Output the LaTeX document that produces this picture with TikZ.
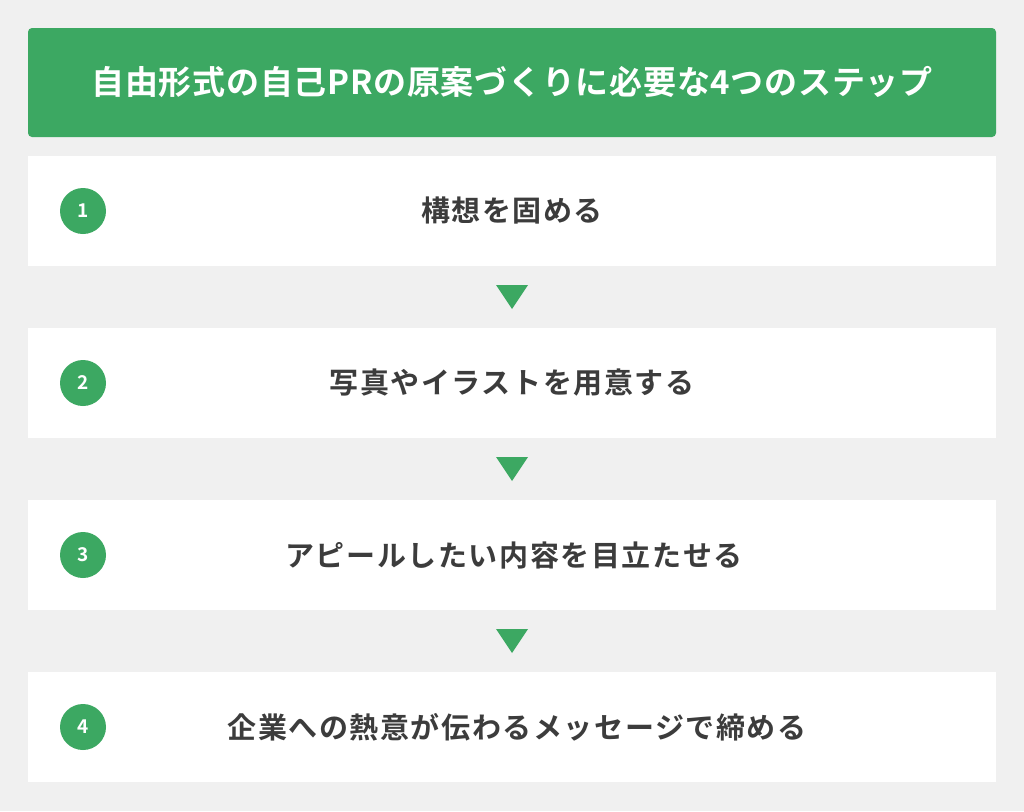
\documentclass[tikz,border=0pt]{standalone}
\usepackage{fontspec}
\newfontfamily\jpfont{Noto Sans CJK JP}[BoldFont={* Bold}]
\newfontfamily\jpstep{Noto Sans CJK JP}[BoldFont={* Bold},LetterSpace=5.5]
\newfontfamily\jptitle{Noto Sans CJK JP}[BoldFont={* Bold},LetterSpace=2.2]
\definecolor{bggray}{HTML}{F0F0F0}
\definecolor{mygreen}{HTML}{3CA862}
\definecolor{txtgray}{HTML}{3C3C3C}
\tikzset{
  stepbox/.style={fill=white, draw=none},
  steptext/.style={text=txtgray, font=\jpstep\bfseries\fontsize{29}{32}\selectfont, anchor=center},
  numcircle/.style={circle, fill=mygreen, minimum size=46pt, inner sep=0pt, text=white, font=\jpfont\bfseries\fontsize{19}{22}\selectfont},
  downtri/.style={fill=mygreen, draw=none}
}
\begin{document}
\begin{tikzpicture}[x=1pt,y=-1pt]
\useasboundingbox (0,0) rectangle (1024,811);
\fill[bggray] (0,0) rectangle (1024,811);
% header
\fill[mygreen, rounded corners=4pt] (28,28) rectangle (996,137);
\node[text=white, font=\jptitle\bfseries\fontsize{33}{36}\selectfont] (title) at (512,82) {自由形式の自己PRの原案づくりに必要な4つのステップ};
% boxes
\foreach \i/\t/\txt/\cx in {1/156/構想を固める/512,2/328/写真やイラストを用意する/512,3/500/アピールしたい内容を目立たせる/514,4/672/企業への熱意が伝わるメッセージで締める/517}{
  \fill[stepbox] (28,\t) rectangle (996,\t+110);
  \node[numcircle] (c\i) at (83,\t+55) {\i};
  \node[steptext] (s\i) at (\cx,\t+55) {\txt};
}
% triangles
\foreach \t in {285,457,629}{
  \fill[downtri] (496,\t) -- (528,\t) -- (512,\t+24) -- cycle;
}
\end{tikzpicture}
\end{document}
